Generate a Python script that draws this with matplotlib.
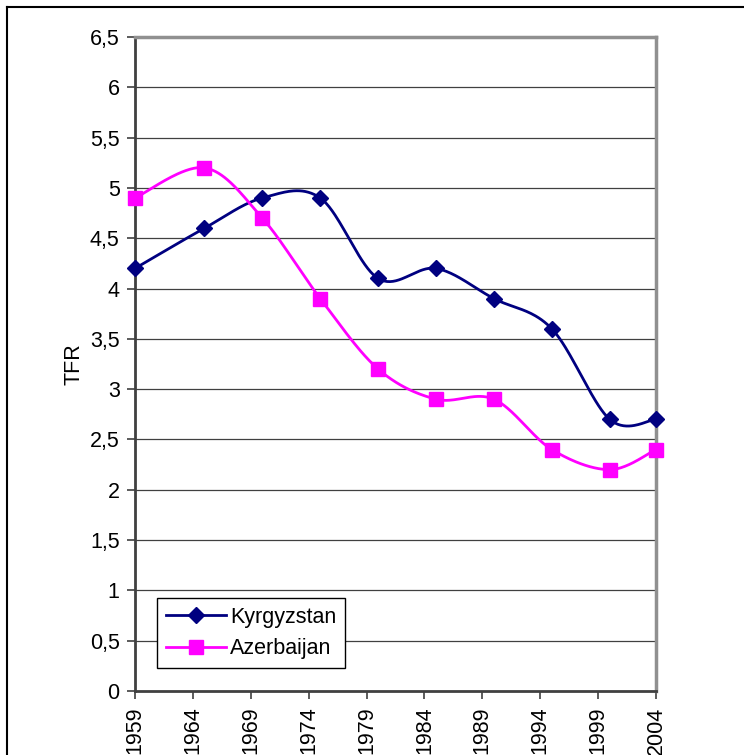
import numpy as np
import matplotlib
matplotlib.use("Agg")
import matplotlib.pyplot as plt
from matplotlib.lines import Line2D

years = [1959, 1965, 1970, 1975, 1980, 1985, 1990, 1995, 2000, 2004]
kyrgyzstan = [4.2, 4.6, 4.9, 4.9, 4.1, 4.2, 3.9, 3.6, 2.7, 2.7]
azerbaijan = [4.9, 5.2, 4.7, 3.9, 3.2, 2.9, 2.9, 2.4, 2.2, 2.4]
xticks = [1959, 1964, 1969, 1974, 1979, 1984, 1989, 1994, 1999, 2004]
yticks = [0, 0.5, 1, 1.5, 2, 2.5, 3, 3.5, 4, 4.5, 5, 5.5, 6, 6.5]
ytick_labels = ["0", "0,5", "1", "1,5", "2", "2,5", "3", "3,5", "4", "4,5", "5", "5,5", "6", "6,5"]

plt.rcParams['font.family'] = ['Liberation Sans', 'DejaVu Sans']
FS = 15.5


def smooth(xs, ys, n=40):
    p = np.column_stack([xs, ys]).astype(float)
    m = len(p)
    out = []
    for i in range(m - 1):
        p0 = p[i - 1] if i > 0 else p[i]
        p3 = p[i + 2] if i + 2 < m else p[i + 1]
        a, d = p[i], p[i + 1]
        b = a + (d - p0) / 6.0
        c = d - (p3 - a) / 6.0
        t = np.linspace(0, 1, n)[:, None]
        seg = (1 - t) ** 3 * a + 3 * (1 - t) ** 2 * t * b + 3 * (1 - t) * t ** 2 * c + t ** 3 * d
        out.append(seg if i == 0 else seg[1:])
    s = np.vstack(out)
    return s[:, 0], s[:, 1]


fig = plt.figure(figsize=(7.44, 7.55), dpi=100)
ax = fig.add_axes([135 / 744, 1 - 691 / 755, (656 - 135) / 744, (691 - 37) / 755])

for yv in yticks[1:]:
    ax.axhline(yv, color='#404040', lw=0.9, zorder=1)

navy = '#000080'
mag = '#FF00FF'
sx, sy = smooth(years, kyrgyzstan)
ax.plot(sx, sy, color=navy, lw=2, zorder=3)
ax.plot(years, kyrgyzstan, ls='none', marker='D', ms=8.5, color=navy, zorder=4, clip_on=False)
sx, sy = smooth(years, azerbaijan)
ax.plot(sx, sy, color=mag, lw=2, zorder=3)
ax.plot(years, azerbaijan, ls='none', marker='s', ms=9.5, color=mag, zorder=4, clip_on=False)

ax.set_xlim(1959, 2004)
ax.set_ylim(0, 6.5)
ax.set_xticks(xticks)
ax.set_xticklabels([str(x) for x in xticks], rotation=90, fontsize=FS)
ax.set_yticks(yticks)
ax.set_yticklabels(ytick_labels, fontsize=FS)
ax.tick_params(direction='out', length=6, width=1.2, color='#404040', pad=5)
ax.set_ylabel('TFR', fontsize=FS, labelpad=4)

ax.spines['left'].set_color('#404040')
ax.spines['left'].set_linewidth(2)
ax.spines['bottom'].set_color('#404040')
ax.spines['bottom'].set_linewidth(2)
ax.spines['top'].set_color('#909090')
ax.spines['top'].set_linewidth(2.5)
ax.spines['right'].set_color('#909090')
ax.spines['right'].set_linewidth(2.5)

handles = [Line2D([], [], color=navy, lw=2, marker='D', ms=8.5),
           Line2D([], [], color=mag, lw=2, marker='s', ms=9.5)]
leg = ax.legend(handles, ['Kyrgyzstan', 'Azerbaijan'], loc='lower left',
                bbox_to_anchor=((157 - 135) / 521, (691 - 668) / 654),
                fontsize=FS, frameon=True, fancybox=False, edgecolor='black',
                framealpha=1, borderpad=0.4, handlelength=2.8, labelspacing=0.5,
                handletextpad=0.2, borderaxespad=0)
leg.get_frame().set_linewidth(1)

# outer border (top and left visible)
fig.add_artist(Line2D([7 / 744, 7 / 744], [0, 1 - 7 / 755], transform=fig.transFigure, color='black', lw=1.5))
fig.add_artist(Line2D([7 / 744, 1], [1 - 7 / 755, 1 - 7 / 755], transform=fig.transFigure, color='black', lw=1.5))

fig.savefig('out.png', dpi=100)
